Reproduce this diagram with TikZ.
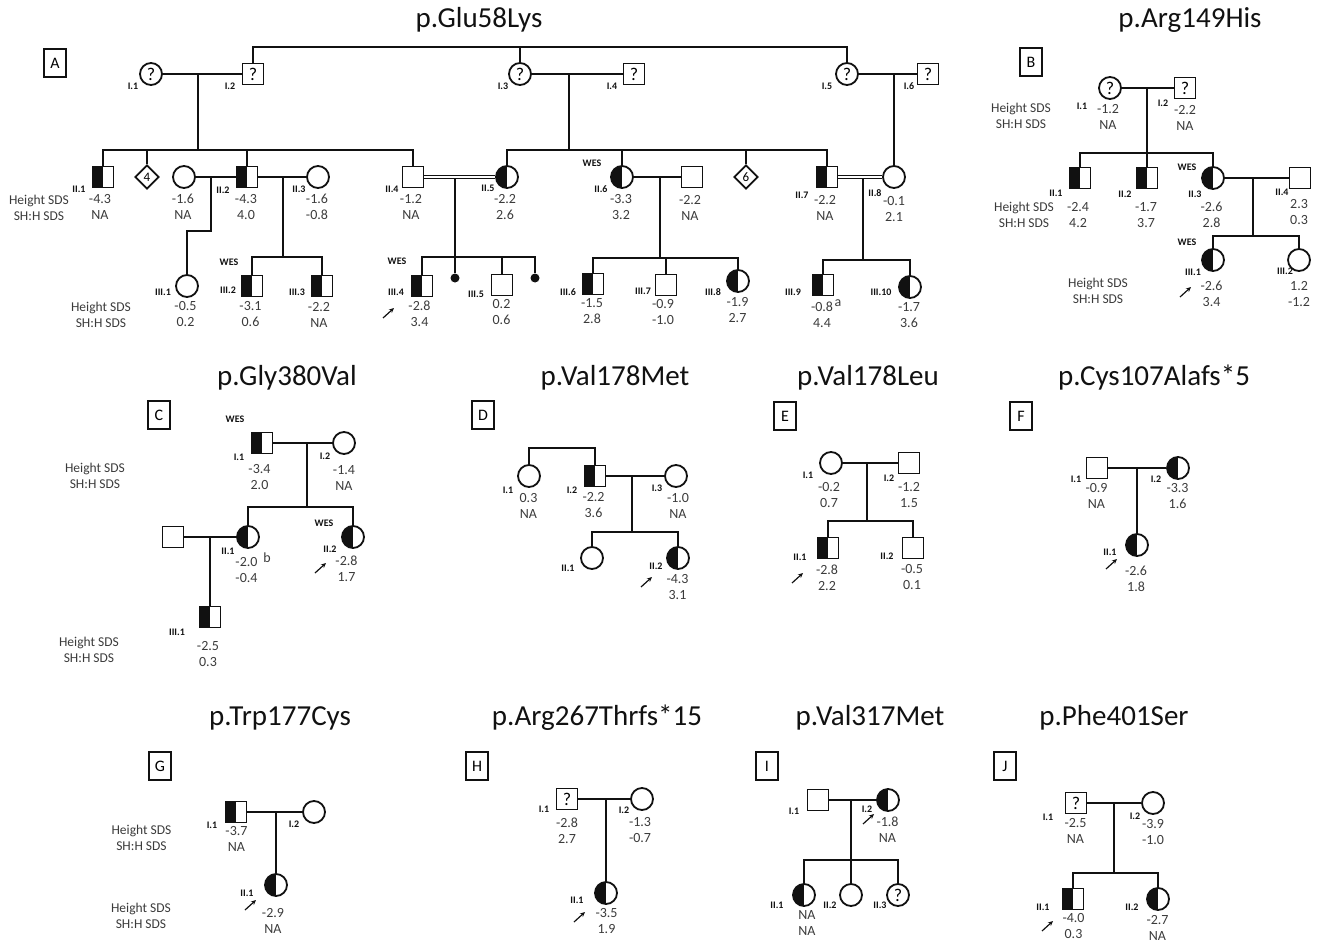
\documentclass[tikz,border=0pt]{standalone}
\usepackage{fontspec}
\setmainfont{Carlito}
\usetikzlibrary{arrows.meta,positioning,shapes.geometric,calc}
\definecolor{ink}{HTML}{111111}
\definecolor{txt}{HTML}{3B3B3B}
\newcommand{\pid}[3]{\node[idl] (#1i) at (#2) {#3};}
\newcommand{\psds}[4]{\node[vals] (#1v) at (#2) {#3\\#4};}
\tikzset{
  ped/.style={draw=ink, line width=1.8pt},
  cons/.style={draw=ink, line width=1.1pt, double=white, double distance=2.2pt},
  male/.style={draw=ink, fill=white, line width=1.8pt, minimum size=21pt, inner sep=0pt,
               font=\fontsize{18}{18}\selectfont},
  female/.style={male, circle, minimum size=22pt},
  unk/.style={male, diamond, minimum size=24pt, font=\fontsize{13}{13}\selectfont},
  carrier/.style={path picture={\fill[ink] (path picture bounding box.south west)
                  rectangle (path picture bounding box.north);}},
  lost/.style={circle, fill=ink, minimum size=9pt, inner sep=0pt},
  idl/.style={font=\fontsize{10}{10}\selectfont\bfseries, text=ink, inner sep=0pt},
  vals/.style={font=\fontsize{14}{16}\selectfont, text=txt, align=center, inner sep=0pt},
  hdr/.style={vals, font=\fontsize{13.5}{16}\selectfont},
  ttl/.style={font=\fontsize{29}{29}\selectfont, text=ink, inner sep=0pt},
  pbox/.style={draw=ink, line width=1.4pt, minimum width=22pt, minimum height=28pt,
               inner sep=0pt, font=\fontsize{16}{16}\selectfont},
  pro/.style={-{Stealth[length=5pt, width=4.5pt]}, line width=1.2pt, draw=ink}
}
\begin{document}
\begin{tikzpicture}[x=1pt,y=-1pt]
  \useasboundingbox (0,0) rectangle (1322,942);

  % ---------------- A: p.Glu58Lys
  \node[ttl] (A-t) at (479,20) {p.Glu58Lys};
  \node[pbox] (A-box) at (55,63) {A};
  \node[female] (A-I1) at (151,74) {?}; \pid{A-I1}{133,86}{I.1}
  \node[male] (A-I2) at (253,74) {?}; \pid{A-I2}{230,86}{I.2}
  \node[female] (A-I3) at (520,74) {?}; \pid{A-I3}{503,86}{I.3}
  \node[male] (A-I4) at (634,74) {?}; \pid{A-I4}{612,86}{I.4}
  \node[female] (A-I5) at (847,74) {?}; \pid{A-I5}{827,86}{I.5}
  \node[male] (A-I6) at (928,74) {?}; \pid{A-I6}{909,86}{I.6}

  \node[hdr] (A-h1) at (39,208) {Height SDS\\SH:H SDS};
  \node[male, carrier] (A-II1) at (103,177) {}; \pid{A-II1}{79,189}{II.1} \psds{A-II1}{100,207}{-4.3}{NA}
  \node[unk] (A-u4) at (147,177) {4};
  \node[female] (A-II2w) at (184,177) {}; \psds{A-II2w}{183,207}{-1.6}{NA}
  \node[male, carrier] (A-II2) at (247,177) {}; \pid{A-II2}{223,190}{II.2} \psds{A-II2}{246,207}{-4.3}{4.0}
  \node[female] (A-II3) at (318,177) {}; \pid{A-II3}{299,189}{II.3} \psds{A-II3}{317,207}{-1.6}{-0.8}
  \node[male] (A-II4) at (413,177) {}; \pid{A-II4}{392,189}{II.4} \psds{A-II4}{411,207}{-1.2}{NA}
  \node[female, carrier] (A-II5) at (507,177) {}; \pid{A-II5}{488,188}{II.5} \psds{A-II5}{505,207}{-2.2}{2.6}
  \node[idl] (A-II6wes) at (592,163) {WES};
  \node[female, carrier] (A-II6) at (622,177) {}; \pid{A-II6}{601,189}{II.6} \psds{A-II6}{621,207}{-3.3}{3.2}
  \node[male] (A-II6h) at (692,177) {}; \psds{A-II6h}{690,208}{-2.2}{NA}
  \node[unk] (A-u6) at (746,177) {6};
  \node[male, carrier] (A-II7) at (827,177) {}; \pid{A-II7}{802,195}{II.7} \psds{A-II7}{825,208}{-2.2}{NA}
  \node[female] (A-II8) at (894,177) {}; \pid{A-II8}{875,193}{II.8} \psds{A-II8}{894,209}{-0.1}{2.1}

  \node[hdr] (A-h2) at (101,315) {Height SDS\\SH:H SDS};
  \node[female] (A-III1) at (187,286) {}; \pid{A-III1}{163,292}{III.1} \psds{A-III1}{185.5,314}{-0.5}{0.2}
  \node[idl] (A-III2wes) at (229,262) {WES};
  \node[male, carrier] (A-III2) at (252,286) {}; \pid{A-III2}{228,290}{III.2} \psds{A-III2}{250.5,314}{-3.1}{0.6}
  \node[male, carrier] (A-III3) at (322,286) {}; \pid{A-III3}{297,292}{III.3} \psds{A-III3}{319,315}{-2.2}{NA}
  \node[idl] (A-III4wes) at (397,261) {WES};
  \node[male, carrier] (A-III4) at (422,286) {}; \pid{A-III4}{396,292}{III.4} \psds{A-III4}{419.5,314}{-2.8}{3.4}
  \node[lost] (A-d1) at (455,278) {};
  \node[male] (A-III5) at (502,285) {}; \pid{A-III5}{476,294}{III.5} \psds{A-III5}{501.5,312}{0.2}{0.6}
  \node[lost] (A-d2) at (535,278) {};
  \node[male, carrier] (A-III6) at (593,284) {}; \pid{A-III6}{568,292}{III.6} \psds{A-III6}{592,311}{-1.5}{2.8}
  \node[male] (A-III7) at (666,285) {}; \pid{A-III7}{643,291}{III.7} \psds{A-III7}{663,312}{-0.9}{-1.0}
  \node[female, carrier] (A-III8) at (738,281) {}; \pid{A-III8}{713,292}{III.8} \psds{A-III8}{737.5,310}{-1.9}{2.7}
  \node[male, carrier] (A-III9) at (823,285) {}; \pid{A-III9}{793,292}{III.9} \psds{A-III9}{822,315}{-0.8}{4.4}
  \node[vals] (A-III9a) at (838,303) {a};
  \node[female, carrier] (A-III10) at (910,287) {}; \pid{A-III10}{881,292}{III.10} \psds{A-III10}{909,315}{-1.7}{3.6}

  \coordinate (A-top) at (520,47);
  \draw[ped] (A-I2) |- (A-top) -| (A-I5);
  \draw[ped] (A-I3) -- (A-top);
  \draw[ped] (A-I1) -- (A-I2); \draw[ped] (A-I3) -- (A-I4); \draw[ped] (A-I5) -- (A-I6);
  \coordinate (A-m1) at (198,74); \coordinate (A-s1) at (198,150);
  \draw[ped] (A-m1) -- (A-s1);
  \draw[ped] (A-II1) |- (A-s1) -| (A-II4);
  \draw[ped] (A-u4) -- (A-u4 |- A-s1); \draw[ped] (A-II2) -- (A-II2 |- A-s1);
  \coordinate (A-m2) at (569,74); \coordinate (A-s2) at (569,150);
  \draw[ped] (A-m2) -- (A-s2);
  \draw[ped] (A-II5) |- (A-s2) -| (A-II7);
  \draw[ped] (A-II6) -- (A-II6 |- A-s2); \draw[ped] (A-u6) -- (A-u6 |- A-s2);
  \coordinate (A-m3) at (894,74);
  \draw[ped] (A-m3) -- (A-II8);

  \draw[ped] (A-II2w) -- (A-II2); \draw[ped] (A-II2) -- (A-II3);
  \coordinate (A-m4) at (211,177); \coordinate (A-k4) at (187,231);
  \draw[ped] (A-m4) |- (A-k4) -- (A-III1);
  \coordinate (A-m5) at (283,177); \coordinate (A-s5) at (283,257);
  \draw[ped] (A-m5) -- (A-s5);
  \draw[ped] (A-III2) |- (A-s5) -| (A-III3);
  \coordinate (A-m6) at (455,177); \coordinate (A-s6) at (455,257);
  \draw[ped] (A-m6) -- (A-s6);
  \draw[ped] (A-III4) |- (A-s6) -| (A-d2);
  \draw[ped] (A-d1) -- (A-d1 |- A-s6); \draw[ped] (A-III5) -- (A-III5 |- A-s6);
  \draw[cons] (A-II4) -- (A-II5);
  \draw[ped] (A-II6) -- (A-II6h);
  \coordinate (A-m7) at (660,177); \coordinate (A-s7) at (660,258);
  \draw[ped] (A-m7) -- (A-s7);
  \draw[ped] (A-III6) |- (A-s7) -| (A-III8);
  \draw[ped] (A-III7) -- (A-III7 |- A-s7);
  \coordinate (A-m8) at (863,177); \coordinate (A-s8) at (863,260);
  \draw[ped] (A-m8) -- (A-s8);
  \draw[ped] (A-III9) |- (A-s8) -| (A-III10);
  \draw[cons] (A-II7) -- (A-II8);

  % ---------------- B: p.Arg149His
  \node[ttl] (B-t) at (1190,20) {p.Arg149His};
  \node[pbox] (B-box) at (1031,62) {B};
  \node[hdr] (B-h0) at (1021,116) {Height SDS\\SH:H SDS};
  \node[female] (B-I1) at (1110,88) {?}; \pid{B-I1}{1082,106}{I.1} \psds{B-I1}{1108,117}{-1.2}{NA}
  \node[male] (B-I2) at (1185,88) {?}; \pid{B-I2}{1163,103}{I.2} \psds{B-I2}{1185,118}{-2.2}{NA}
  \node[hdr] (B-h1) at (1024,215) {Height SDS\\SH:H SDS};
  \node[male, carrier] (B-II1) at (1080,178) {}; \pid{B-II1}{1056,193}{II.1} \psds{B-II1}{1078,215}{-2.4}{4.2}
  \node[male, carrier] (B-II2) at (1147,178) {}; \pid{B-II2}{1125,194}{II.2} \psds{B-II2}{1146,215}{-1.7}{3.7}
  \node[idl] (B-II3wes) at (1187,167) {WES};
  \node[female, carrier] (B-II3) at (1213,178) {}; \pid{B-II3}{1195,194}{II.3} \psds{B-II3}{1211.5,215}{-2.6}{2.8}
  \node[male] (B-II4) at (1300,178) {}; \pid{B-II4}{1282,192}{II.4} \psds{B-II4}{1299,212}{2.3}{0.3}
  \node[hdr] (B-h2) at (1098,291) {Height SDS\\SH:H SDS};
  \node[idl] (B-III1wes) at (1187,242) {WES};
  \node[female, carrier] (B-III1) at (1213,260) {}; \pid{B-III1}{1193,272}{III.1} \psds{B-III1}{1211.5,294}{-2.6}{3.4}
  \node[female] (B-III2) at (1299,260) {}; \pid{B-III2}{1285,271}{III.2} \psds{B-III2}{1299,294.5}{1.2}{-1.2}

  \draw[ped] (B-I1) -- (B-I2);
  \coordinate (B-m1) at (1147,88); \coordinate (B-s1) at (1147,153);
  \draw[ped] (B-m1) -- (B-s1);
  \draw[ped] (B-II1) |- (B-s1) -| (B-II3); \draw[ped] (B-II2) -- (B-s1);
  \draw[ped] (B-II3) -- (B-II4);
  \coordinate (B-m2) at (1253,178); \coordinate (B-s2) at (1253,236);
  \draw[ped] (B-m2) -- (B-s2);
  \draw[ped] (B-III1) |- (B-s2) -| (B-III2);

  % ---------------- C: p.Gly380Val
  \node[ttl] (C-t) at (287,378) {p.Gly380Val};
  \node[pbox] (C-box) at (159,415) {C};
  \node[hdr] (C-h1) at (95,476) {Height SDS\\SH:H SDS};
  \node[idl] (C-I1wes) at (235,419) {WES};
  \node[male, carrier] (C-I1) at (262,443) {}; \pid{C-I1}{239,457}{I.1} \psds{C-I1}{259.5,477.5}{-3.4}{2.0}
  \node[female] (C-I2) at (344,443) {}; \pid{C-I2}{325,456}{I.2} \psds{C-I2}{344,477.5}{-1.4}{NA}
  \node[male] (C-II1h) at (173,537) {};
  \node[female, carrier] (C-II1) at (248,537) {}; \pid{C-II1}{228,551}{II.1} \psds{C-II1}{246.5,570.5}{-2.0}{-0.4}
  \node[vals] (C-II1b) at (267,558) {b};
  \node[idl] (C-II2wes) at (324,523) {WES};
  \node[female, carrier] (C-II2) at (353,537) {}; \pid{C-II2}{330,549}{II.2} \psds{C-II2}{346.5,568.5}{-2.8}{1.7}
  \node[hdr] (C-h2) at (89,650) {Height SDS\\SH:H SDS};
  \node[male, carrier] (C-III1) at (210,617) {}; \pid{C-III1}{177,632}{III.1} \psds{C-III1}{208,654}{-2.5}{0.3}

  \draw[ped] (C-I1) -- (C-I2);
  \coordinate (C-m1) at (307,443); \coordinate (C-s1) at (307,507);
  \draw[ped] (C-m1) -- (C-s1);
  \draw[ped] (C-II1) |- (C-s1) -| (C-II2);
  \draw[ped] (C-II1h) -- (C-II1);
  \coordinate (C-m2) at (210,537);
  \draw[ped] (C-m2) -- (C-III1);

  % ---------------- D: p.Val178Met
  \node[ttl] (D-t) at (615,378) {p.Val178Met};
  \node[pbox] (D-box) at (483,415) {D};
  \node[female] (D-I1) at (529,476) {}; \pid{D-I1}{508,490}{I.1} \psds{D-I1}{528.5,505.5}{0.3}{NA}
  \node[male, carrier] (D-I2) at (595,476) {}; \pid{D-I2}{572,490}{I.2} \psds{D-I2}{593.5,505.5}{-2.2}{3.6}
  \node[female] (D-I3) at (676,476) {}; \pid{D-I3}{657,488}{I.3} \psds{D-I3}{678,505.5}{-1.0}{NA}
  \node[female] (D-II1) at (592,558) {}; \pid{D-II1}{568,568}{II.1}
  \node[female, carrier] (D-II2) at (678,558) {}; \pid{D-II2}{656,566}{II.2} \psds{D-II2}{677.5,587}{-4.3}{3.1}

  \coordinate (D-s0) at (562,448);
  \draw[ped] (D-I1) |- (D-s0) -| (D-I2);
  \draw[ped] (D-I2) -- (D-I3);
  \coordinate (D-m1) at (632,476); \coordinate (D-s1) at (632,532);
  \draw[ped] (D-m1) -- (D-s1);
  \draw[ped] (D-II1) |- (D-s1) -| (D-II2);

  % ---------------- E: p.Val178Leu
  \node[ttl] (E-t) at (868,378) {p.Val178Leu};
  \node[pbox] (E-box) at (785,416) {E};
  \node[female] (E-I1) at (831,463) {}; \pid{E-I1}{808,475}{I.1} \psds{E-I1}{829,495.5}{-0.2}{0.7}
  \node[male] (E-I2) at (909,463) {}; \pid{E-I2}{889,478}{I.2} \psds{E-I2}{909,495.5}{-1.2}{1.5}
  \node[male, carrier] (E-II1) at (828,548) {}; \pid{E-II1}{800,557}{II.1} \psds{E-II1}{827,577.5}{-2.8}{2.2}
  \node[male] (E-II2) at (913,548) {}; \pid{E-II2}{887,556}{II.2} \psds{E-II2}{912,577.5}{-0.5}{0.1}

  \draw[ped] (E-I1) -- (E-I2);
  \coordinate (E-m1) at (867,463); \coordinate (E-s1) at (867,521);
  \draw[ped] (E-m1) -- (E-s1);
  \draw[ped] (E-II1) |- (E-s1) -| (E-II2);

  % ---------------- F: p.Cys107Alafs*5
  \node[ttl] (F-t) at (1154,378) {p.Cys107Alafs*5};
  \node[pbox] (F-box) at (1021,416) {F};
  \node[male] (F-I1) at (1097,468) {}; \pid{F-I1}{1076,479}{I.1} \psds{F-I1}{1096.5,496}{-0.9}{NA}
  \node[female, carrier] (F-I2) at (1178,468) {}; \pid{F-I2}{1156,479}{I.2} \psds{F-I2}{1177.5,496}{-3.3}{1.6}
  \node[female, carrier] (F-II1) at (1137,545) {}; \pid{F-II1}{1110,552}{II.1} \psds{F-II1}{1136,578.5}{-2.6}{1.8}

  \draw[ped] (F-I1) -- (F-I2);
  \coordinate (F-m1) at (1137,468);
  \draw[ped] (F-m1) -- (F-II1);

  % ---------------- G: p.Trp177Cys
  \node[ttl] (G-t) at (280,718) {p.Trp177Cys};
  \node[pbox] (G-box) at (160,766) {G};
  \node[hdr] (G-h1) at (141.5,837.5) {Height SDS\\SH:H SDS};
  \node[male, carrier] (G-I1) at (236,812) {}; \pid{G-I1}{212,825}{I.1} \psds{G-I1}{236.5,838.5}{-3.7}{NA}
  \node[female] (G-I2) at (314,812) {}; \pid{G-I2}{294,824}{I.2}
  \node[hdr] (G-h2) at (141,916) {Height SDS\\SH:H SDS};
  \node[female, carrier] (G-II1) at (276,885) {}; \pid{G-II1}{247,893}{II.1} \psds{G-II1}{273,921}{-2.9}{NA}

  \draw[ped] (G-I1) -- (G-I2);
  \coordinate (G-m1) at (276,812);
  \draw[ped] (G-m1) -- (G-II1);

  % ---------------- H: p.Arg267Thrfs*15
  \node[ttl] (H-t) at (597,718) {p.Arg267Thrfs*15};
  \node[pbox] (H-box) at (477,766) {H};
  \node[male] (H-I1) at (567,799) {?}; \pid{H-I1}{544,809}{I.1} \psds{H-I1}{567,830.5}{-2.8}{2.7}
  \node[female] (H-I2) at (642,799) {}; \pid{H-I2}{624,810}{I.2} \psds{H-I2}{640,830.5}{-1.3}{-0.7}
  \node[female, carrier] (H-II1) at (606,893) {}; \pid{H-II1}{577,900}{II.1} \psds{H-II1}{606.5,921.5}{-3.5}{1.9}

  \draw[ped] (H-I1) -- (H-I2);
  \coordinate (H-m1) at (606,799);
  \draw[ped] (H-m1) -- (H-II1);

  % ---------------- I: p.Val317Met
  \node[ttl] (I-t) at (870,718) {p.Val317Met};
  \node[pbox] (I-box) at (767,766) {I};
  \node[male] (I-I1) at (818,800) {}; \pid{I-I1}{794,811}{I.1}
  \node[female, carrier] (I-I2) at (888,800) {}; \pid{I-I2}{867,809}{I.2} \psds{I-I2}{887.5,830}{-1.8}{NA}
  \node[female, carrier] (I-II1) at (804,895) {}; \pid{I-II1}{777,905}{II.1} \psds{I-II1}{807,923}{NA}{NA}
  \node[female] (I-II2) at (851,895) {}; \pid{I-II2}{830,905}{II.2}
  \node[female] (I-II3) at (898,895) {?}; \pid{I-II3}{880,905}{II.3}

  \draw[ped] (I-I1) -- (I-I2);
  \coordinate (I-m1) at (851,800); \coordinate (I-s1) at (851,860);
  \draw[ped] (I-m1) -- (I-s1);
  \draw[ped] (I-II1) |- (I-s1) -| (I-II3); \draw[ped] (I-II2) -- (I-s1);

  % ---------------- J: p.Phe401Ser
  \node[ttl] (J-t) at (1114,718) {p.Phe401Ser};
  \node[pbox] (J-box) at (1005,766) {J};
  \node[male] (J-I1) at (1076,803) {?}; \pid{J-I1}{1048,817}{I.1} \psds{J-I1}{1075.5,831}{-2.5}{NA}
  \node[female] (J-I2) at (1153,803) {}; \pid{J-I2}{1135,816}{I.2} \psds{J-I2}{1153,832}{-3.9}{-1.0}
  \node[male, carrier] (J-II1) at (1073,899) {}; \pid{J-II1}{1043,907}{II.1} \psds{J-II1}{1073.5,926}{-4.0}{0.3}
  \node[female, carrier] (J-II2) at (1158,899) {}; \pid{J-II2}{1132,907}{II.2} \psds{J-II2}{1157.5,927.5}{-2.7}{NA}

  \draw[ped] (J-I1) -- (J-I2);
  \coordinate (J-m1) at (1114,803); \coordinate (J-s1) at (1114,873);
  \draw[ped] (J-m1) -- (J-s1);
  \draw[ped] (J-II1) |- (J-s1) -| (J-II2);

  % proband arrows
  \foreach \x/\y in {383/318, 1180/297, 315/573, 641/587, 792/583, 1106/569,
                     245/910, 574/922, 863/824, 1042/931} {
    \draw[pro] (\x,\y) -- ++(11,-10);
  }
\end{tikzpicture}
\end{document}
